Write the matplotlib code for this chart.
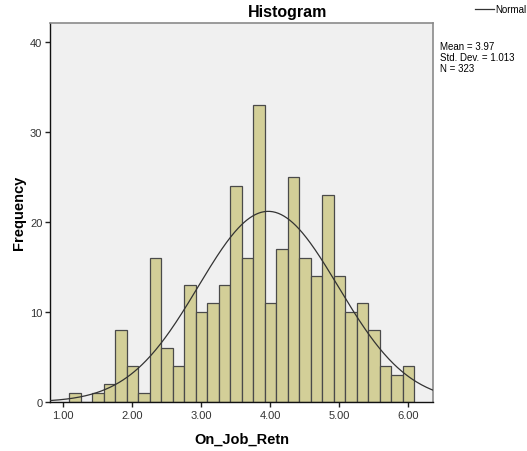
import numpy as np
import matplotlib
matplotlib.use("Agg")
import matplotlib.pyplot as plt
from matplotlib.lines import Line2D

plt.rcParams["font.family"] = ["Liberation Sans", "DejaVu Sans"]

# bin centres (width 1/6) and counts
bin_centers = [1.0 + k / 6 for k in range(1, 31)]
counts = [1, 0, 1, 2, 8, 4, 1, 16, 6, 4, 13, 10, 11, 13, 24,
          16, 33, 11, 17, 25, 16, 14, 23, 14, 10, 11, 8, 4, 3, 4]
x_ticks = [1, 2, 3, 4, 5, 6]
x_tick_labels = ["1.00", "2.00", "3.00", "4.00", "5.00", "6.00"]
y_ticks = [0, 10, 20, 30, 40]
mean, sd, n = 3.97, 1.013, 323
bin_width = 1 / 6

fig = plt.figure(figsize=(5.27, 4.52), dpi=100)
ax = fig.add_axes([0.0949, 0.1084, 0.8216 - 0.0949, 0.948 - 0.1084])
ax.set_facecolor("#f0f0f0")

ax.bar(bin_centers, counts, width=bin_width, color="#d3cf98",
       edgecolor="#4a4a4a", linewidth=0.9, zorder=2)

xlo, xhi = 0.807, 6.358
xs = np.linspace(xlo, xhi, 400)
ys = n * bin_width / (sd * np.sqrt(2 * np.pi)) * np.exp(-0.5 * ((xs - mean) / sd) ** 2)
ax.plot(xs, ys, color="#333333", linewidth=0.9, zorder=3)

ax.set_xlim(xlo, xhi)
ax.set_ylim(0, 42.2)
ax.set_xticks(x_ticks)
ax.set_xticklabels(x_tick_labels)
ax.set_yticks(y_ticks)
ax.tick_params(axis="both", labelsize=8, labelcolor="#333333", length=3.5,
               width=1, color="#222222", pad=2)

for s in ["top", "right"]:
    ax.spines[s].set_color("#8a8a8a")
    ax.spines[s].set_linewidth(1.2)
for s in ["left", "bottom"]:
    ax.spines[s].set_color("#111111")
    ax.spines[s].set_linewidth(1.0)

ax.set_xlabel("On_Job_Retn", fontsize=10.5, fontweight="bold", labelpad=9)
ax.set_ylabel("Frequency", fontsize=10.5, fontweight="bold", labelpad=3)

fig.text(288 / 527, 1 - 12 / 452, "Histogram", ha="center", va="center",
         fontsize=11.5, fontweight="bold")

# legend for the normal curve
fig.add_artist(Line2D([475 / 527, 494 / 527], [1 - 10 / 452, 1 - 10 / 452],
                      color="#333333", linewidth=0.9))
fig.text(495 / 527, 1 - 10 / 452, "Normal", ha="left", va="center", fontsize=7)

fig.text(440 / 527, 1 - 42 / 452,
         "Mean = 3.97\nStd. Dev. = 1.013\nN = 323",
         ha="left", va="top", fontsize=7, linespacing=1.1)

fig.savefig("out.png", dpi=100)
